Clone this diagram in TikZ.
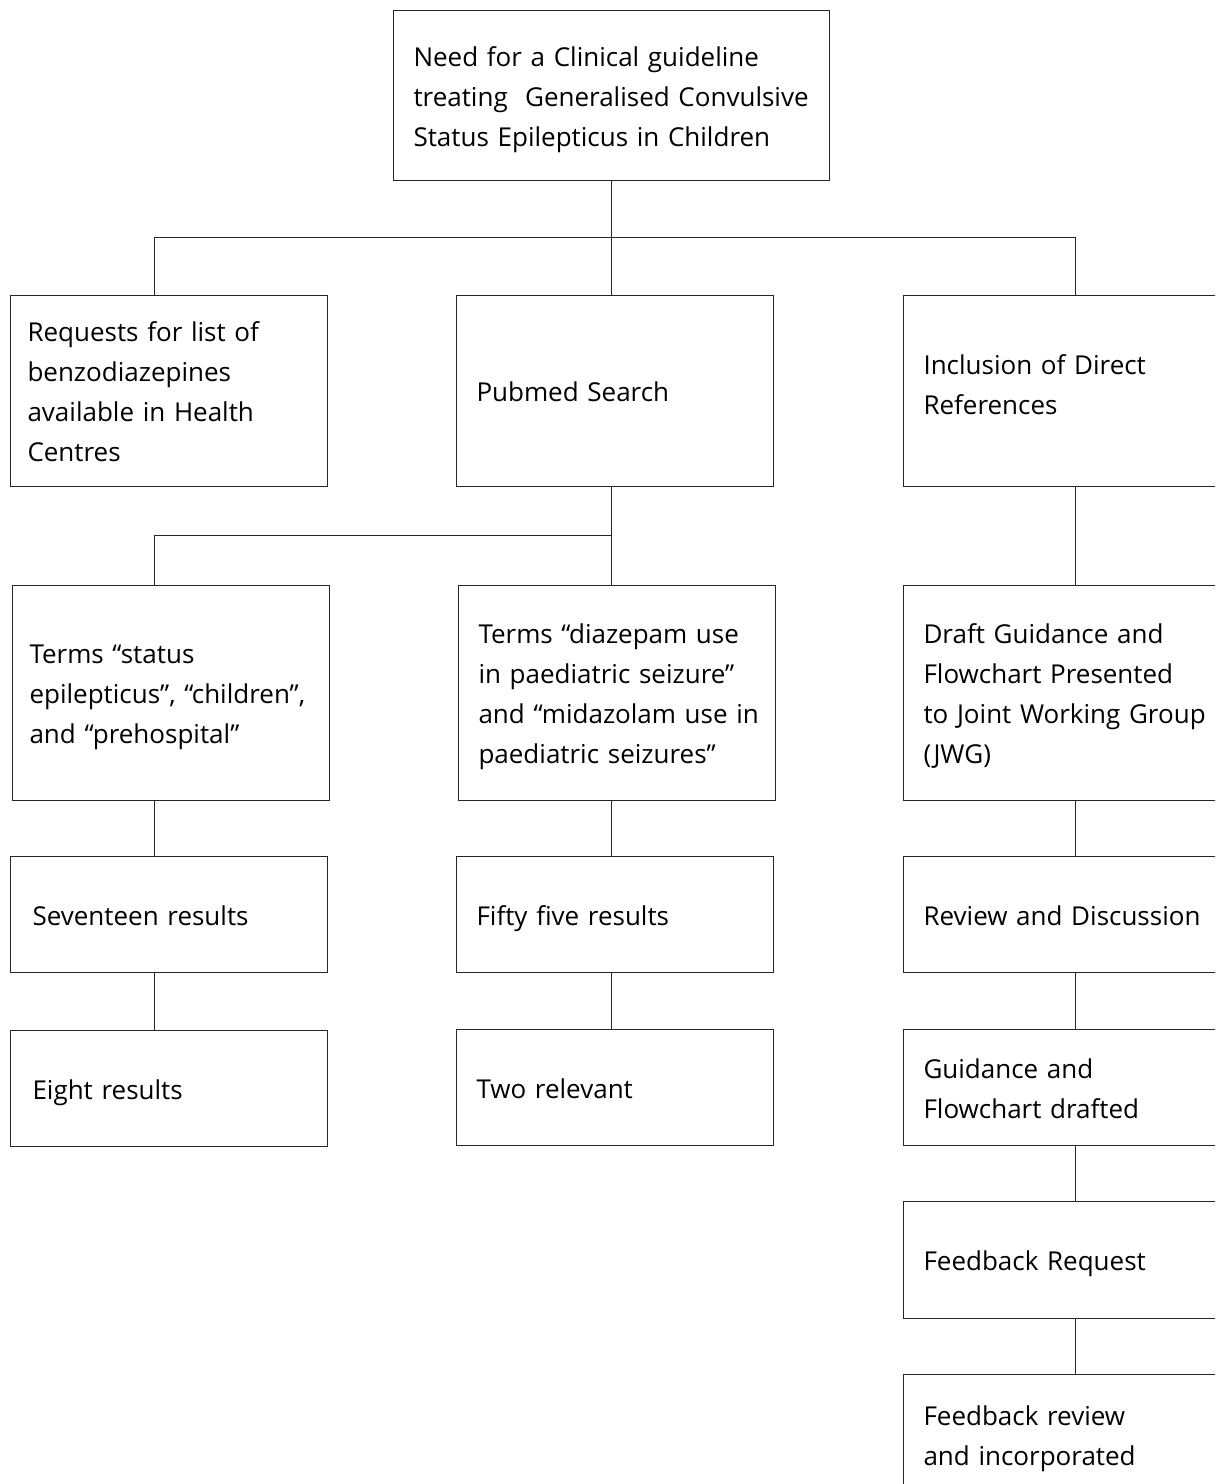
\documentclass[tikz,border=0pt]{standalone}
\usepackage{fontspec}
\setmainfont{Open Sans}
\newcommand\mystrut{\rule[-7pt]{0pt}{30pt}}
\newcommand\lne[1]{\mbox{\mystrut #1}}
\begin{document}
\begin{tikzpicture}[x=0.75pt,y=-0.75pt,
  bx/.style={draw=black!85, line width=0.75pt, anchor=north west, align=left,
    inner xsep=15pt, inner ysep=2pt, font=\fontsize{19.5pt}{30pt}\selectfont},
  colw/.style={minimum width=237.75pt, text width=207.75pt},
  colwn/.style={minimum width=237.75pt, inner xsep=12.75pt, text width=212.25pt},
  colww/.style={minimum width=237.75pt, inner xsep=16.5pt, text width=204.75pt},
  rigw/.style={minimum width=255pt, text width=225pt},
  ln/.style={draw=black!85, line width=0.75pt}]
\useasboundingbox (0,0) rectangle (1215,1484);
\clip (0,0) rectangle (1215,1484);

% boxes
\node[bx, minimum width=327pt, text width=297pt, minimum height=127.5pt] (top) at (393,10)
  {\lne{Need for a Clinical guideline}\\\lne{treating~ Generalised Convulsive}\\\lne{Status Epilepticus in Children}};

\node[bx, colwn, minimum height=143.25pt] (r2L) at (10,295)
  {\lne{Requests for list of}\\\lne{benzodiazepines}\\\lne{available in Health}\\\lne{Centres}};
\node[bx, colw, minimum height=143.25pt] (r2M) at (456,295) {\lne{Pubmed Search}};
\node[bx, rigw, minimum height=143.25pt] (r2R) at (903,295)
  {\lne{Inclusion of Direct}\\\lne{References}\rule[-17.5pt]{0pt}{0pt}};

\node[bx, colwn, minimum height=161.25pt] (r3L) at (12,585)
  {\lne{Terms “status}\\\lne{epilepticus”, “children”,}\\\lne{and “prehospital”}};
\node[bx, colw, minimum height=161.25pt] (r3M) at (458,585)
  {\lne{Terms “diazepam use}\\\lne{in paediatric seizure”}\\\lne{and “midazolam use in}\\\lne{paediatric seizures”}};
\node[bx, rigw, minimum height=161.25pt] (r3R) at (903,585)
  {\lne{Draft Guidance and}\\\lne{Flowchart Presented}\\\lne{to Joint Working Group}\\\lne{(JWG)}};

\node[bx, colww, minimum height=87pt] (r4L) at (10,856) {\lne{Seventeen results}};
\node[bx, colw, minimum height=87pt] (r4M) at (456,856) {\lne{Fifty five results}};
\node[bx, rigw, minimum height=87pt] (r4R) at (903,856) {\lne{Review and Discussion}};

\node[bx, colww, minimum height=87pt] (r5L) at (10,1030) {\lne{Eight results}};
\node[bx, colw, minimum height=87pt] (r5M) at (456,1029) {\lne{Two relevant}};
\node[bx, rigw, minimum height=87pt] (r5R) at (903,1029) {\lne{Guidance and}\\\lne{Flowchart drafted}};

\node[bx, rigw, minimum height=87.75pt] (r6R) at (903,1201) {\lne{Feedback Request}};
\node[bx, rigw, minimum height=90pt] (r7R) at (903,1374) {\lne{Feedback review}\\\lne{and incorporated}};

% junction coordinates
\coordinate (bL) at (154,237);
\coordinate (bM) at (611,237);
\coordinate (bR) at (1075,237);
\coordinate (cL) at (154,535);
\coordinate (cM) at (611,535);

% connectors
\draw[ln] (top.south -| bM) -- (bM);
\draw[ln] (bL |- r2L.north) -- (bL) -- (bR) -- (bR |- r2R.north);
\draw[ln] (bM) -- (bM |- r2M.north);

\draw[ln] (r2M.south -| cM) -- (cM |- r3M.north);
\draw[ln] (cM) -- (cL) -- (cL |- r3L.north);
\draw[ln] (r2R.south -| bR) -- (r3R.north -| bR);

\draw[ln] (r3L.south -| cL) -- (r4L.north -| cL);
\draw[ln] (r4L.south -| cL) -- (r5L.north -| cL);
\draw[ln] (r3M.south -| cM) -- (r4M.north -| cM);
\draw[ln] (r4M.south -| cM) -- (r5M.north -| cM);

\draw[ln] (r3R.south -| bR) -- (r4R.north -| bR);
\draw[ln] (r4R.south -| bR) -- (r5R.north -| bR);
\draw[ln] (r5R.south -| bR) -- (r6R.north -| bR);
\draw[ln] (r6R.south -| bR) -- (r7R.north -| bR);
\end{tikzpicture}
\end{document}
